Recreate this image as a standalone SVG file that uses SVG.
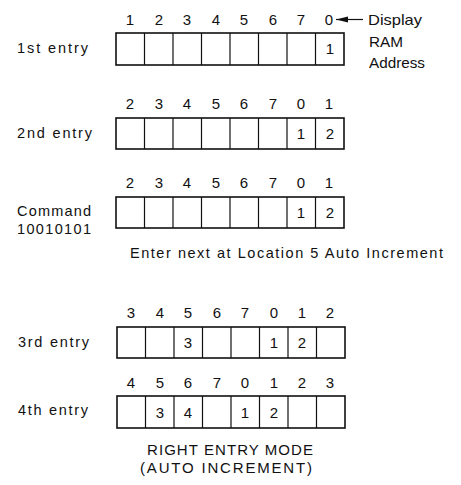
<svg xmlns="http://www.w3.org/2000/svg" width="461" height="485" viewBox="0 0 461 485">
<defs>
<style>
text{font-family:"Liberation Sans",Arial,sans-serif;fill:#111}
.d{font-size:15px;text-anchor:middle}
.l{font-size:14.5px}
.cap{font-size:15px}
.c{font-size:15px;text-anchor:middle}
.box{fill:#fff;stroke:#111;stroke-width:1.6}
.div{stroke:#111;stroke-width:1.2}
</style>
<marker id="ah" markerWidth="12" markerHeight="7" refX="12" refY="3.5" orient="auto" markerUnits="userSpaceOnUse">
<path d="M0,0.5 L12,3.5 L0,6.5 Z" fill="#111"/>
</marker>
</defs>
<rect width="461" height="485" fill="#fff"/>

<g id="row1">
<text class="l" x="17" y="53" textLength="71" lengthAdjust="spacing">1st entry</text>
<g class="d"><text x="130" y="25">1</text><text x="159" y="25">2</text><text x="187" y="25">3</text><text x="216" y="25">4</text><text x="244" y="25">5</text><text x="273" y="25">6</text><text x="301" y="25">7</text><text x="329" y="25">0</text></g>
<rect class="box" x="116" y="33" width="228" height="32"/>
<path class="div" d="M144.5,33V65M173,33V65M201.5,33V65M230,33V65M258.5,33V65M287,33V65M315.5,33V65"/>
<text class="c" x="330" y="54">1</text>
</g>

<g id="ram-label">
<text class="cap" x="368" y="25" textLength="54" lengthAdjust="spacingAndGlyphs">Display</text>
<text class="cap" x="369" y="47" textLength="34" lengthAdjust="spacingAndGlyphs">RAM</text>
<text class="cap" x="369" y="68" textLength="56" lengthAdjust="spacingAndGlyphs">Address</text>
</g>

<g id="connectors">
<line x1="363" y1="19.5" x2="336" y2="19.5" stroke="#111" stroke-width="1.2" marker-end="url(#ah)"/>
</g>

<g id="row2">
<text class="l" x="17" y="138" textLength="75" lengthAdjust="spacing">2nd entry</text>
<g class="d"><text x="130" y="109">2</text><text x="159" y="109">3</text><text x="187" y="109">4</text><text x="216" y="109">5</text><text x="244" y="109">6</text><text x="273" y="109">7</text><text x="301" y="109">0</text><text x="329" y="109">1</text></g>
<rect class="box" x="116" y="118" width="228" height="31"/>
<path class="div" d="M144.5,118V149M173,118V149M201.5,118V149M230,118V149M258.5,118V149M287,118V149M315.5,118V149"/>
<text class="c" x="301" y="139">1</text><text class="c" x="330" y="139">2</text>
</g>

<g id="command">
<text class="l" x="17" y="216" textLength="74" lengthAdjust="spacing">Command</text>
<text class="l" x="17" y="234" textLength="74" lengthAdjust="spacing">10010101</text>
<g class="d"><text x="130" y="188">2</text><text x="159" y="188">3</text><text x="187" y="188">4</text><text x="216" y="188">5</text><text x="244" y="188">6</text><text x="273" y="188">7</text><text x="301" y="188">0</text><text x="329" y="188">1</text></g>
<rect class="box" x="116" y="197" width="228" height="31"/>
<path class="div" d="M144.5,197V228M173,197V228M201.5,197V228M230,197V228M258.5,197V228M287,197V228M315.5,197V228"/>
<text class="c" x="301" y="218">1</text><text class="c" x="330" y="218">2</text>
<text class="l" x="130" y="258" textLength="313" lengthAdjust="spacing">Enter next at Location 5 Auto Increment</text>
</g>

<g id="row3">
<text class="l" x="18" y="347" textLength="71" lengthAdjust="spacing">3rd entry</text>
<g class="d"><text x="131" y="318">3</text><text x="160" y="318">4</text><text x="188" y="318">5</text><text x="217" y="318">6</text><text x="245" y="318">7</text><text x="274" y="318">0</text><text x="302" y="318">1</text><text x="330" y="318">2</text></g>
<rect class="box" x="117" y="327" width="228" height="31"/>
<path class="div" d="M145.5,327V358M174,327V358M202.5,327V358M231,327V358M259.5,327V358M288,327V358M316.5,327V358"/>
<text class="c" x="188" y="348">3</text><text class="c" x="274" y="348">1</text><text class="c" x="302" y="348">2</text>
</g>

<g id="row4">
<text class="l" x="18" y="415" textLength="70" lengthAdjust="spacing">4th entry</text>
<g class="d"><text x="131" y="388">4</text><text x="160" y="388">5</text><text x="188" y="388">6</text><text x="217" y="388">7</text><text x="245" y="388">0</text><text x="274" y="388">1</text><text x="302" y="388">2</text><text x="330" y="388">3</text></g>
<rect class="box" x="117" y="396" width="228" height="32"/>
<path class="div" d="M145.5,396V428M174,396V428M202.5,396V428M231,396V428M259.5,396V428M288,396V428M316.5,396V428"/>
<text class="c" x="160" y="418">3</text><text class="c" x="188" y="418">4</text><text class="c" x="245" y="418">1</text><text class="c" x="274" y="418">2</text>
</g>

<g id="caption">
<text class="cap" x="147" y="455" textLength="166" lengthAdjust="spacing">RIGHT ENTRY MODE</text>
<text class="cap" x="140" y="473" textLength="172" lengthAdjust="spacing">(AUTO INCREMENT)</text>
</g>
</svg>
